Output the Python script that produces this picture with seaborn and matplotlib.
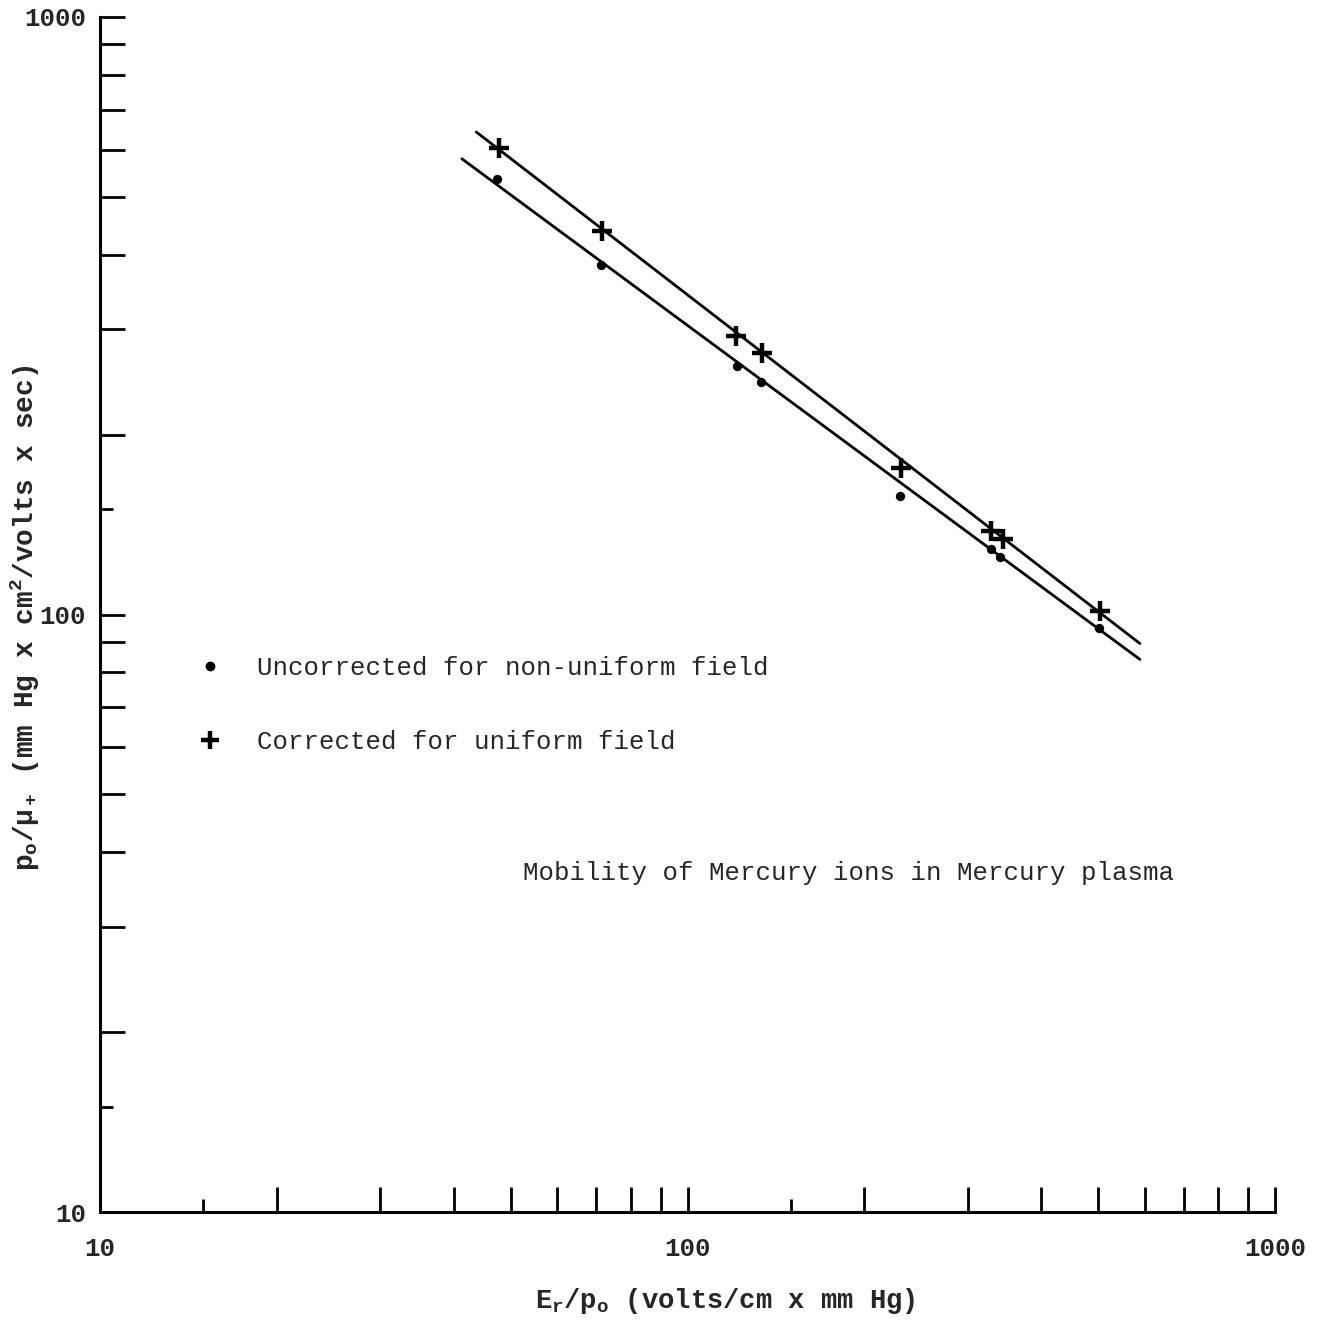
import numpy as np
import pandas as pd
import matplotlib
matplotlib.use("Agg")
import matplotlib.pyplot as plt
import seaborn as sns
from matplotlib.ticker import FixedLocator, FuncFormatter, NullFormatter
from matplotlib.lines import Line2D

# ---- data ----
unc_x = [47.4, 71.3, 121.4, 133.4, 230, 328.6, 340, 501]
unc_y = [536, 385, 261, 245, 158, 128.5, 125, 94.8]
cor_x = [47.8, 71.6, 121, 134, 231, 328.6, 345, 503]
cor_y = [604, 438, 293, 274, 176, 138, 134, 101.5]
# fitted straight lines (end points)
cor_fit_x = [43.7, 589]
cor_fit_y = [642, 89.4]
unc_fit_x = [41.3, 589]
unc_fit_y = [579, 84.1]

major_ticks = [10, 20, 30, 40, 50, 60, 70, 80, 90, 100,
               200, 300, 400, 500, 600, 700, 800, 900, 1000]
short_ticks = [15, 150]
labelled = [10, 100, 1000]

legend_labels = ["Uncorrected for non-uniform field", "Corrected for uniform field"]
title_text = "Mobility of Mercury ions in Mercury plasma"

sns.set_style("ticks")
plt.rcParams['font.family'] = ['Liberation Mono', 'DejaVu Sans Mono']
plt.rcParams['mathtext.fontset'] = 'custom'
plt.rcParams['mathtext.rm'] = 'Liberation Mono:bold'
plt.rcParams['mathtext.it'] = 'Liberation Mono:bold'
plt.rcParams['mathtext.bf'] = 'Liberation Mono:bold'

fig = plt.figure(figsize=(13.29, 13.23), dpi=100)
ax = fig.add_axes([100/1329, 111/1323, 1175/1329, 1195/1323])

ax.set_xscale('log')
ax.set_yscale('log')
ax.set_xlim(10, 1000)
ax.set_ylim(10, 1000)

df_cf = pd.DataFrame({'x': cor_fit_x, 'y': cor_fit_y})
df_uf = pd.DataFrame({'x': unc_fit_x, 'y': unc_fit_y})
sns.lineplot(data=df_cf, x='x', y='y', ax=ax, color='black', lw=2.0)
sns.lineplot(data=df_uf, x='x', y='y', ax=ax, color='black', lw=2.0)

df_u = pd.DataFrame({'x': unc_x, 'y': unc_y})
df_c = pd.DataFrame({'x': cor_x, 'y': cor_y})
sns.scatterplot(data=df_u, x='x', y='y', ax=ax, marker='o', s=45, color='black',
                edgecolor='black', linewidth=0, zorder=5)
sns.scatterplot(data=df_c, x='x', y='y', ax=ax, marker='+', s=220, color='black',
                linewidth=3.2, zorder=5)

ax.xaxis.set_major_locator(FixedLocator(major_ticks))
ax.yaxis.set_major_locator(FixedLocator(major_ticks))
ax.xaxis.set_minor_locator(FixedLocator(short_ticks))
ax.yaxis.set_minor_locator(FixedLocator(short_ticks))
fmt = FuncFormatter(lambda v, p: f"{int(round(v))}" if int(round(v)) in labelled else "")
ax.xaxis.set_major_formatter(fmt)
ax.yaxis.set_major_formatter(fmt)
ax.xaxis.set_minor_formatter(NullFormatter())
ax.yaxis.set_minor_formatter(NullFormatter())

ax.tick_params(which='both', bottom=True, left=True, top=False, right=False)
ax.tick_params(which='major', direction='in', length=18, width=2.0, color='black',
               labelsize=18.5, pad=18)
ax.tick_params(which='minor', direction='in', length=9.5, width=2.0, color='black')
ax.tick_params(axis='y', which='major', pad=10)
for lab in ax.get_xticklabels() + ax.get_yticklabels():
    lab.set_fontweight('bold')

for s in ['top', 'right']:
    ax.spines[s].set_visible(False)
for s in ['left', 'bottom']:
    ax.spines[s].set_linewidth(2.2)
    ax.spines[s].set_color('black')

ax.set_xlabel(r"E$_\mathregular{r}$/p$_\mathregular{o}$ (volts/cm x mm Hg)",
              fontsize=19.5, fontweight='bold')
ax.xaxis.set_label_coords(0.532, -0.062)
ax.set_ylabel(r"p$_\mathregular{o}$/$\mathbf{\mu_+}$ (mm Hg x cm$^\mathregular{2}$/volts x sec)",
              fontsize=20, fontweight='bold')
ax.yaxis.set_label_coords(-0.0495, 0.497)

# legend
handles = [Line2D([], [], marker='o', ls='', color='black', markersize=6),
           Line2D([], [], marker='+', ls='', color='black', markersize=13, markeredgewidth=3.2)]
ax.legend(handles, legend_labels, loc='upper left', bbox_to_anchor=(0.083, 0.465),
          frameon=False, fontsize=18.5, handlelength=1.0, handletextpad=1.3,
          labelspacing=1.92, borderpad=0, borderaxespad=0)

ax.text(52.5, 36.9, title_text, fontsize=18.5, ha='left', va='center')

fig.savefig("out.png", dpi=100, facecolor='white')
